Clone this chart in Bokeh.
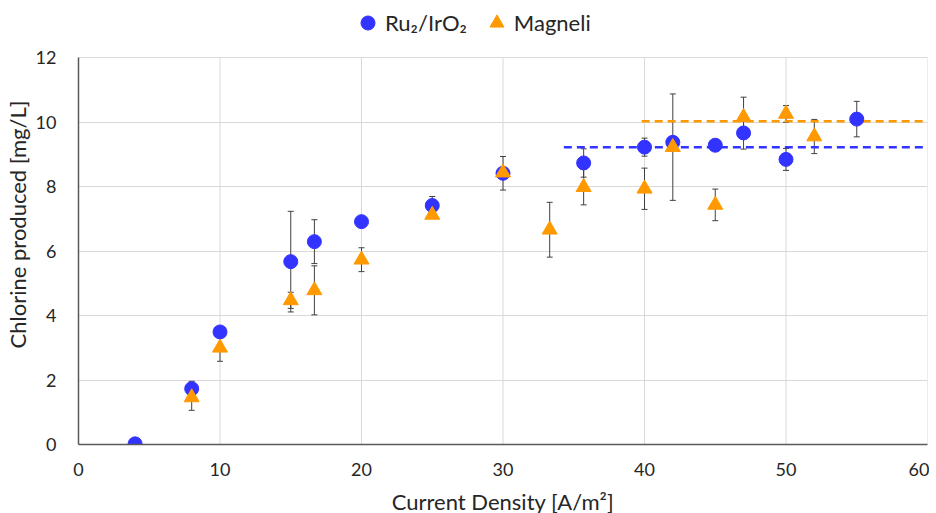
from bokeh.plotting import figure
from bokeh.models import ColumnDataSource, Whisker, TeeHead, Legend, LegendItem, FixedTicker, Range1d
from bokeh.embed import file_html
from bokeh.resources import INLINE

# Ru2/IrO2 series
ru_x = [4, 8, 10, 15, 16.67, 20, 25, 30, 35.7, 40, 42, 45, 47, 50, 55]
ru_y = [0.02, 1.73, 3.49, 5.67, 6.29, 6.91, 7.41, 8.41, 8.73, 9.22, 9.37, 9.28, 9.66, 8.84, 10.09]
ru_err = [0, 0.23, 0, 1.56, 0.68, 0, 0.28, 0.52, 0.44, 0.28, 0, 0, 0.5, 0.34, 0.55]

# Magneli series
mg_x = [8, 10, 15, 16.67, 20, 25, 30, 33.3, 35.7, 40, 42, 45, 47, 50, 52]
mg_y = [1.46, 3.0, 4.47, 4.78, 5.73, 7.12, 8.43, 6.66, 7.98, 7.93, 9.22, 7.43, 10.15, 10.25, 9.55]
mg_err = [0.4, 0.42, 0.25, 0.76, 0.37, 0.05, 0.12, 0.85, 0.55, 0.64, 1.65, 0.49, 0.62, 0.26, 0.53]

# plateau (mean) lines
ru_mean_x = [34.3, 60]
ru_mean_y = [9.22, 9.22]
mg_mean_x = [39.8, 60]
mg_mean_y = [10.02, 10.02]

x_ticks = [0, 10, 20, 30, 40, 50, 60]
y_ticks = [0, 2, 4, 6, 8, 10, 12]
Y_MAX = 12

BLUE = "#3333FF"
ORANGE = "#FF9900"
FONT = "Lato"
TXT = "#262626"
GRID = "#d9d9d9"

# frame extends above the y=12 line to leave room for the legend (as in the reference)
p = figure(frame_width=849, frame_height=440, output_backend="svg", toolbar_location=None,
           x_range=Range1d(0, 60), y_range=Range1d(0, Y_MAX * 440 / 387),
           min_border_left=69, min_border_right=2, min_border_top=4, min_border_bottom=60)
p.outline_line_color = None
p.background_fill_color = "white"

p.xaxis.ticker = FixedTicker(ticks=x_ticks)
p.yaxis.ticker = FixedTicker(ticks=y_ticks)
p.yaxis.bounds = (0, Y_MAX)
for ax in (p.xaxis[0], p.yaxis[0]):
    ax.major_tick_line_color = None
    ax.minor_tick_line_color = None
    ax.axis_line_color = "#595959"
    ax.axis_line_width = 1.5
    ax.major_label_text_font = FONT
    ax.major_label_text_font_size = "18px"
    ax.major_label_text_color = TXT
    ax.axis_label_text_font = FONT
    ax.axis_label_text_font_size = "22px"
    ax.axis_label_text_font_style = "normal"
    ax.axis_label_text_color = TXT
p.xaxis.axis_label = "Current Density [A/m²]"
p.yaxis.axis_label = "Chlorine produced [mg/L]"
p.xaxis.major_label_standoff = 12
p.yaxis.major_label_standoff = 16
p.xaxis.axis_label_standoff = 9
p.yaxis.axis_label_standoff = 2

# horizontal gridlines from the ticker; vertical gridlines stop at y = 12
p.xgrid.visible = False
p.ygrid.ticker = FixedTicker(ticks=y_ticks)
p.ygrid.grid_line_color = GRID
p.ygrid.grid_line_width = 1
p.segment(x0=x_ticks, y0=[0] * len(x_ticks), x1=x_ticks, y1=[Y_MAX] * len(x_ticks),
          line_color=GRID, line_width=1, level="underlay")

ru_src = ColumnDataSource(dict(x=ru_x, y=ru_y,
                               lo=[a - b for a, b in zip(ru_y, ru_err)],
                               hi=[a + b for a, b in zip(ru_y, ru_err)]))
mg_src = ColumnDataSource(dict(x=mg_x, y=mg_y,
                               lo=[a - b for a, b in zip(mg_y, mg_err)],
                               hi=[a + b for a, b in zip(mg_y, mg_err)]))

for src in (ru_src, mg_src):
    w = Whisker(source=src, base="x", lower="lo", upper="hi",
                line_color="#404040", line_width=1,
                upper_head=TeeHead(size=6, line_color="#404040", line_width=1),
                lower_head=TeeHead(size=6, line_color="#404040", line_width=1))
    p.add_layout(w)

p.line(ru_mean_x, ru_mean_y, line_color=BLUE, line_width=2.5, line_dash="8 5")
p.line(mg_mean_x, mg_mean_y, line_color=ORANGE, line_width=2.5, line_dash="8 5")

r_ru = p.scatter("x", "y", source=ru_src, marker="circle", size=14,
                 fill_color=BLUE, line_color=BLUE)
r_mg = p.scatter("x", "y", source=mg_src, marker="triangle", size=15,
                 fill_color=ORANGE, line_color=ORANGE)

legend = Legend(items=[LegendItem(label="Ru₂/IrO₂", renderers=[r_ru]),
                       LegendItem(label="Magneli", renderers=[r_mg])],
                orientation="horizontal", location=(272, 404),
                label_text_font=FONT, label_text_font_size="22px",
                label_text_color=TXT, border_line_color=None,
                background_fill_alpha=0, spacing=12, glyph_width=35, glyph_height=35,
                label_standoff=-8, padding=0, margin=0, label_height=22)
p.add_layout(legend, "center")

open("out.html", "w").write(file_html(p, INLINE))
